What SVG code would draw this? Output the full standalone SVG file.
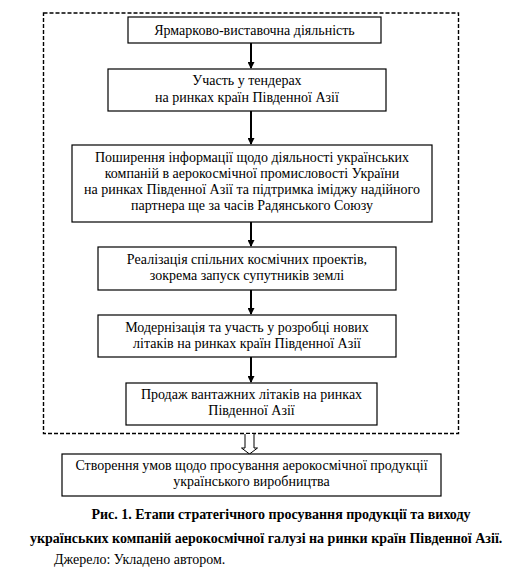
<svg xmlns="http://www.w3.org/2000/svg" width="526" height="575" viewBox="0 0 526 575">
<style>
.box{fill:#fff;stroke:#000;stroke-width:1.2}
.t{font-family:"Liberation Serif","Times New Roman",serif;font-size:14px;fill:#000;text-anchor:middle}
.cap{font-family:"Liberation Serif","Times New Roman",serif;font-size:14px;font-weight:bold;fill:#000}
.src{font-family:"Liberation Serif","Times New Roman",serif;font-size:14px;fill:#000}
.ln{stroke:#000;stroke-width:2;fill:none}
</style>
<defs>
<marker id="ah" markerWidth="7" markerHeight="7" refX="6" refY="3.5" orient="auto" markerUnits="userSpaceOnUse">
<path d="M0,0 L7,3.5 L0,7 Z" fill="#000"/>
</marker>
</defs>
<rect x="0" y="0" width="526" height="575" fill="#fff"/>
<g id="frame">
<rect x="43.5" y="13" width="415" height="420.5" fill="none" stroke="#000" stroke-width="1.4" stroke-dasharray="4,2"/>
</g>
<g id="connectors">
<line class="ln" x1="251" y1="43" x2="251" y2="68" marker-end="url(#ah)"/>
<line class="ln" x1="251" y1="111" x2="251" y2="144" marker-end="url(#ah)"/>
<line class="ln" x1="251" y1="222" x2="251" y2="246" marker-end="url(#ah)"/>
<line class="ln" x1="251" y1="290" x2="251" y2="314" marker-end="url(#ah)"/>
<line class="ln" x1="251" y1="357" x2="251" y2="382" marker-end="url(#ah)"/>
<path d="M245,434 L245,448 L241.5,448 L249.5,454 L257.5,448 L254,448 L254,434" fill="#fff" stroke="#000" stroke-width="1"/>
</g>
<g id="n1">
<rect class="box" x="128" y="17" width="253" height="26"/>
<text class="t" x="254.5" y="34.5">Ярмарково-виставочна діяльність</text>
</g>
<g id="n2">
<rect class="box" x="108" y="69" width="278" height="42"/>
<text class="t" x="247" y="85">Участь у тендерах</text>
<text class="t" x="247" y="102">на ринках країн Південної Азії</text>
</g>
<g id="n3">
<rect class="box" x="72" y="145" width="360" height="77"/>
<text class="t" x="252" y="162">Поширення інформації щодо діяльності українських</text>
<text class="t" x="252" y="178">компаній в аерокосмічної промисловості України</text>
<text class="t" x="252" y="194">на ринках Південної Азії та підтримка іміджу надійного</text>
<text class="t" x="252" y="210">партнера ще за часів Радянського Союзу</text>
</g>
<g id="n4">
<rect class="box" x="98" y="247" width="298" height="43"/>
<text class="t" x="247" y="264">Реалізація спільних космічних проектів,</text>
<text class="t" x="247" y="280">зокрема запуск супутників землі</text>
</g>
<g id="n5">
<rect class="box" x="98" y="315" width="298" height="42"/>
<text class="t" x="247" y="332">Модернізація та участь у розробці нових</text>
<text class="t" x="247" y="348">літаків на ринках країн Південної Азії</text>
</g>
<g id="n6">
<rect class="box" x="126" y="383" width="251" height="42"/>
<text class="t" x="251.5" y="399">Продаж вантажних літаків на ринках</text>
<text class="t" x="251.5" y="415">Південної Азії</text>
</g>
<g id="n7">
<rect class="box" x="62" y="454" width="379" height="42"/>
<text class="t" x="251.5" y="470">Створення умов щодо просування аерокосмічної продукції</text>
<text class="t" x="251.5" y="486">українського виробництва</text>
</g>
<g id="caption">
<text class="cap" x="281" y="519" text-anchor="middle">Рис. 1. Етапи стратегічного просування продукції та виходу</text>
<text class="cap" x="30" y="543">українських компаній аерокосмічної галузі на ринки країн Південної Азії.</text>
<text class="src" x="54" y="564">Джерело: Укладено автором.</text>
</g>
</svg>
